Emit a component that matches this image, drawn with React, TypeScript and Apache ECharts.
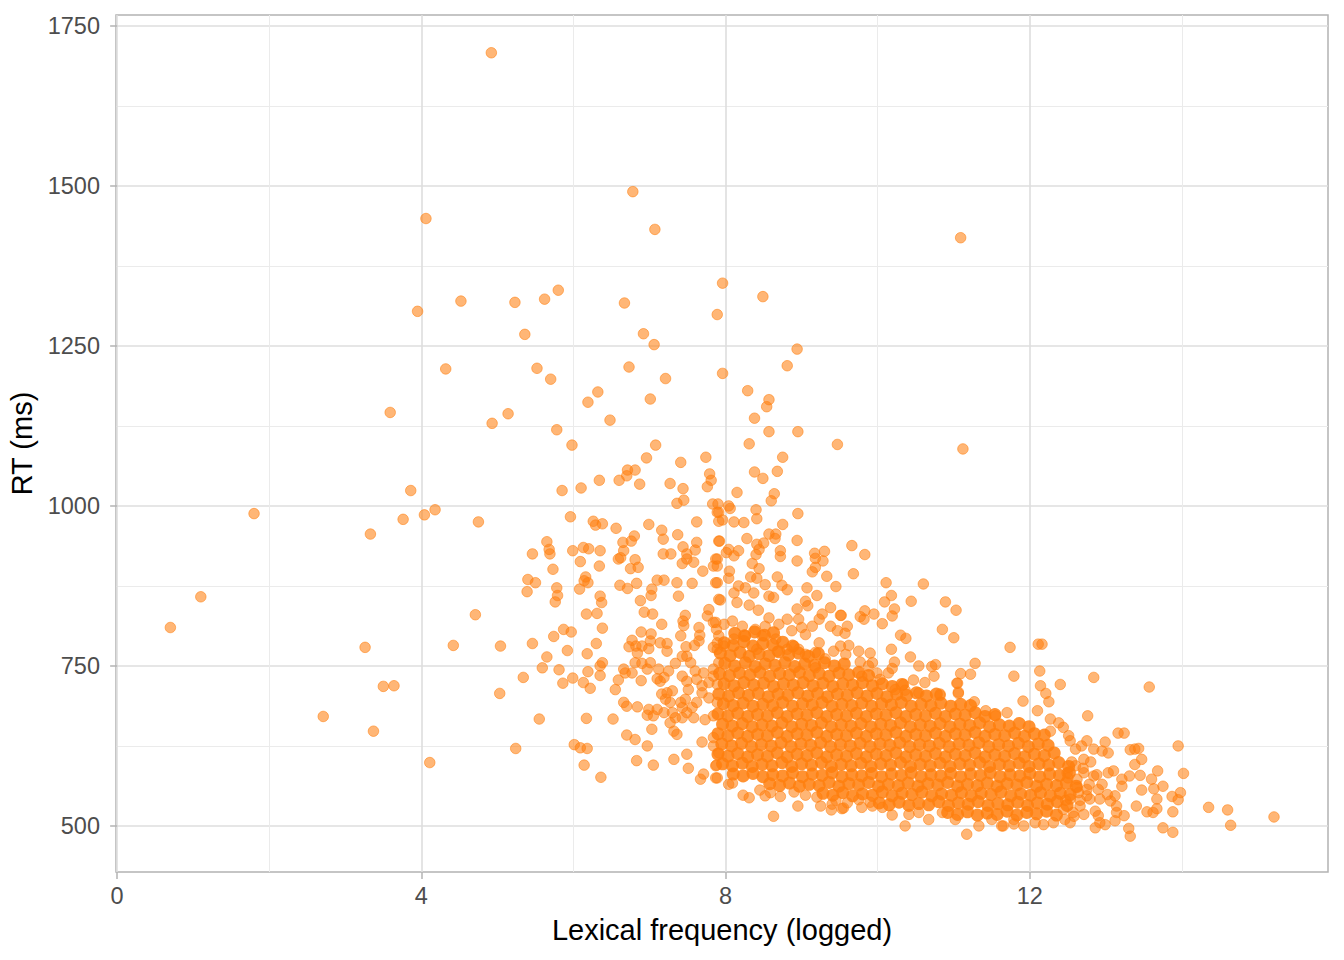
import React, { useEffect, useRef } from "react";
import * as echarts from "echarts";

// axis ticks (ggplot-style major / minor breaks)
const xTicks = [0, 4, 8, 12];
const xMinorTicks = [2, 6, 10, 14];
const yTicks = [500, 750, 1000, 1250, 1500, 1750];
const yMinorTicks = [625, 875, 1125, 1375, 1625];

// [lexical frequency (logged), RT (ms)]
const lowFreq: [number, number][] = [
    [0.70, 810], [1.10, 858], [1.80, 988], [2.71, 671], [3.26, 779], [3.37, 648], [3.33, 956], [3.50, 718],
    [3.64, 719], [3.59, 1146], [3.76, 979], [3.86, 1024], [3.95, 1304], [4.04, 986], [4.18, 994], [4.06, 1449],
    [4.11, 599], [4.32, 1214], [4.42, 782], [4.52, 1320], [4.75, 975], [4.71, 830], [4.92, 1708], [4.93, 1129],
    [5.04, 781], [5.03, 707], [5.14, 1144], [5.23, 1318], [5.24, 621],
];

const slowUpper: [number, number][] = [
    [6.78, 1491], [7.07, 1432], [11.09, 1419], [7.96, 1348], [8.49, 1327], [5.62, 1323], [5.80, 1337], [6.67, 1317],
    [7.89, 1299], [5.36, 1268], [6.92, 1269], [7.06, 1252], [8.94, 1245], [8.81, 1219], [5.52, 1215], [5.70, 1198],
    [6.73, 1217], [7.21, 1199], [7.96, 1207], [8.29, 1180], [8.57, 1166], [8.54, 1155], [8.38, 1137], [6.32, 1178],
    [6.19, 1162], [7.01, 1167], [6.48, 1134], [5.78, 1119], [5.98, 1095], [7.08, 1095], [8.57, 1116], [8.95, 1116],
    [8.31, 1097], [9.47, 1096], [11.12, 1089], [6.96, 1075], [7.74, 1076], [7.41, 1068], [8.75, 1076], [6.71, 1056],
    [6.81, 1056], [6.70, 1047], [7.79, 1050], [7.81, 1040], [7.76, 1030], [8.38, 1053], [8.68, 1054], [8.49, 1043],
    [6.34, 1040], [6.60, 1040], [6.87, 1034], [7.27, 1035], [7.44, 1027], [5.85, 1024], [6.10, 1028], [8.15, 1021],
    [8.64, 1019],
];

const midLeft: [number, number][] = [
    [7.36, 1004], [7.45, 1009], [7.83, 1003], [7.89, 990], [5.96, 983], [6.26, 976], [6.29, 970], [6.38, 972],
    [6.56, 965], [6.99, 971], [7.16, 962], [7.37, 955], [7.62, 975], [7.91, 976], [5.65, 944], [5.68, 932],
    [5.69, 925], [5.46, 925], [5.99, 930], [6.13, 935], [6.20, 933], [6.35, 930], [6.65, 943], [6.66, 930],
    [6.76, 945], [6.80, 953], [7.18, 948], [7.18, 925], [7.28, 925], [7.44, 936], [7.49, 925], [7.62, 943],
    [7.60, 931], [7.91, 945], [6.59, 917], [6.62, 919], [6.09, 913], [6.34, 906], [6.75, 902], [6.81, 916],
    [6.85, 904], [7.43, 910], [7.49, 917], [7.58, 912], [7.70, 898], [7.84, 906], [7.87, 917], [5.73, 901],
    [5.40, 885], [5.50, 880], [5.39, 866], [5.78, 872], [5.79, 860], [5.76, 850], [6.16, 889], [6.14, 883],
    [6.19, 880], [6.08, 870], [6.35, 859], [6.37, 849], [6.61, 876], [6.71, 871], [6.83, 879], [7.10, 884],
    [7.19, 884], [7.36, 880], [7.56, 879], [7.87, 880], [7.03, 870], [7.02, 860], [6.88, 852], [7.38, 859],
    [7.91, 854], [6.17, 831], [6.31, 832], [6.93, 834], [7.04, 831], [7.47, 829], [7.44, 820], [7.45, 813],
    [7.78, 838], [7.76, 828], [7.16, 815], [7.65, 810], [7.66, 798], [7.84, 818], [7.88, 807], [5.87, 807],
    [5.97, 803], [5.74, 796], [5.46, 785], [6.38, 809], [6.30, 785], [5.92, 774], [6.18, 769], [5.65, 764],
    [5.59, 747], [5.81, 744], [5.34, 732], [5.86, 723], [5.99, 731], [6.13, 724], [6.22, 715], [6.19, 741],
    [6.35, 735], [6.35, 750], [6.38, 755], [6.89, 803], [7.02, 800], [6.77, 790], [6.73, 780], [6.82, 781],
    [6.84, 770], [6.90, 781], [6.99, 777], [7.01, 789], [7.14, 786], [7.23, 785], [7.23, 773], [7.41, 797],
    [7.48, 780], [7.59, 782], [7.65, 789], [7.84, 779], [7.89, 786], [6.81, 755], [6.90, 754], [7.01, 755],
    [6.97, 745], [7.12, 745], [7.25, 742], [7.34, 754], [7.43, 765], [7.49, 765], [7.54, 755], [7.60, 742],
    [7.71, 739], [7.84, 745], [7.91, 755], [6.66, 745], [6.68, 739], [6.77, 739], [6.59, 728], [6.55, 713],
    [6.89, 727], [7.10, 730], [7.14, 726], [7.19, 732], [7.43, 734], [7.49, 726], [7.51, 713], [7.62, 729],
    [7.69, 719], [7.78, 724], [7.89, 721], [7.84, 734], [7.16, 706], [7.23, 708], [7.30, 711], [7.21, 698],
    [7.27, 693], [7.41, 693], [7.47, 698], [7.43, 685], [7.56, 685], [7.62, 693], [7.69, 708], [7.78, 700],
    [7.89, 693], [6.66, 693], [6.70, 687], [6.84, 686], [6.99, 682], [6.97, 673], [7.05, 672], [7.10, 682],
    [7.19, 677], [7.30, 677], [7.34, 669], [7.43, 669], [7.49, 677], [7.58, 669], [7.73, 666], [7.84, 672],
    [5.55, 667], [6.17, 668], [6.52, 667], [7.03, 651], [6.70, 642], [6.81, 635], [6.97, 625], [7.27, 661],
    [7.32, 648], [7.36, 643], [7.69, 631], [7.84, 638], [7.84, 625], [7.91, 614], [6.01, 627], [6.09, 622],
    [6.18, 621], [6.14, 595], [6.36, 576], [6.83, 602], [7.05, 595], [7.32, 604], [7.49, 612], [7.51, 590],
    [7.67, 573], [7.71, 581], [7.87, 594], [7.87, 575],
];

const midUpper: [number, number][] = [
    [8.60, 1008], [8.04, 1000], [8.06, 996], [7.90, 1003], [7.91, 990], [8.40, 994], [8.41, 980], [8.95, 988],
    [7.96, 978], [8.11, 975], [8.24, 974], [8.75, 971], [8.57, 956], [8.66, 956], [8.65, 949], [8.28, 949],
    [7.92, 945], [8.94, 946], [8.41, 940], [8.50, 942], [8.44, 932], [8.04, 932], [8.17, 930], [8.11, 922],
    [8.01, 927], [8.72, 930], [8.72, 921], [8.40, 924], [9.17, 926], [9.30, 929], [9.18, 918], [9.28, 914],
    [9.66, 938], [9.83, 924], [8.94, 914], [8.35, 910], [8.44, 902], [8.05, 898], [7.89, 917], [7.89, 906],
    [9.18, 904], [9.14, 897], [9.33, 890], [9.68, 894], [8.68, 889], [8.33, 889], [8.41, 887], [8.04, 887],
    [7.89, 880], [8.52, 877], [8.74, 876], [8.81, 869], [8.17, 875], [8.11, 864], [8.26, 872], [8.37, 864],
    [9.07, 872], [9.45, 874], [9.20, 860], [10.11, 880], [10.60, 878], [10.18, 860], [10.09, 850], [10.22, 839],
    [10.19, 828], [10.44, 851], [10.89, 850], [11.03, 837], [8.57, 859], [8.63, 857], [7.93, 853], [8.15, 849],
    [8.31, 845], [8.43, 837], [9.05, 851], [9.08, 844], [8.94, 839], [9.38, 841], [9.52, 829], [9.83, 836],
    [9.95, 831], [9.77, 827], [9.82, 823], [10.06, 816], [10.85, 807], [11.00, 794], [10.30, 798], [10.37, 793],
    [11.74, 779], [11.79, 734], [10.18, 776], [10.43, 764], [9.90, 770], [9.75, 773], [10.22, 756], [10.54, 750],
    [10.71, 749], [10.76, 752], [11.28, 754], [11.09, 738], [11.22, 737], [10.74, 734], [10.47, 728], [11.04, 723],
    [10.62, 724], [11.06, 709], [10.82, 706], [10.54, 708], [10.36, 712], [10.14, 739], [10.19, 746], [9.99, 739],
    [9.88, 750], [9.77, 756], [9.93, 755], [9.79, 734], [10.03, 729], [10.23, 713], [10.34, 721], [9.51, 829],
    [9.60, 812], [9.47, 805], [9.57, 801], [9.38, 812], [9.27, 831], [9.23, 823], [8.96, 823], [9.00, 810],
    [9.05, 799], [9.14, 812], [8.87, 805], [8.81, 823], [8.70, 815], [8.57, 825], [8.52, 812], [8.39, 807],
    [8.22, 812], [8.09, 820], [7.98, 815], [7.87, 818], [9.62, 782], [9.51, 781], [9.42, 773], [9.58, 768],
    [9.23, 786], [9.18, 771], [9.31, 761], [9.18, 747], [8.96, 776], [8.90, 781], [9.05, 768], [8.81, 776],
    [8.68, 773], [8.66, 792], [8.48, 797], [8.41, 776], [8.26, 797], [8.11, 792], [7.98, 781], [7.89, 776],
    [7.91, 797],
];

const highFreq: [number, number][] = [
    [12.11, 784], [12.16, 784], [12.13, 742], [12.14, 719], [12.40, 721], [12.84, 732], [13.57, 717], [12.21, 707],
    [12.25, 694], [11.91, 695], [12.10, 680], [12.76, 672], [12.27, 667], [12.38, 661], [12.44, 654], [12.51, 641],
    [12.53, 633], [12.27, 648], [13.16, 645], [13.24, 645], [12.99, 631], [13.03, 614], [12.95, 617], [12.75, 633],
    [12.68, 625], [12.84, 620], [12.71, 604], [13.95, 625], [13.32, 619], [13.38, 620], [13.43, 621], [13.47, 604],
    [13.38, 596], [14.02, 582], [13.68, 586], [13.60, 573], [13.75, 562], [13.63, 558], [13.67, 542], [13.87, 546],
    [13.98, 552], [13.95, 541], [13.45, 579], [13.31, 578], [13.03, 583], [13.10, 586], [13.21, 573], [13.21, 562],
    [13.02, 549], [12.90, 557], [12.92, 542], [13.47, 556], [13.40, 531], [13.54, 522], [13.62, 521], [13.67, 527],
    [13.88, 522], [14.35, 529], [14.60, 525], [15.21, 514], [14.64, 501], [13.75, 497], [13.88, 490], [13.30, 496],
    [13.32, 484], [13.14, 521], [13.24, 516], [13.12, 508], [12.92, 505], [12.99, 502], [12.86, 497], [13.14, 531],
    [12.86, 523], [12.90, 516], [13.06, 539], [13.12, 547], [12.79, 542], [12.66, 531], [12.75, 547], [12.49, 583],
    [12.62, 573], [12.71, 583], [12.60, 594], [12.84, 578], [12.75, 557], [12.64, 552], [12.53, 542], [12.44, 526],
    [12.57, 521], [12.71, 518], [12.46, 510], [12.31, 505], [12.18, 502], [12.07, 505], [11.92, 500], [11.79, 503],
    [11.65, 500], [12.55, 600], [12.62, 560], [12.70, 590], [12.78, 565], [12.66, 540], [12.58, 515], [12.80, 600],
    [12.88, 580], [12.95, 565], [12.60, 620], [12.50, 575], [12.47, 540], [12.53, 505],
];

const clusterEdge: [number, number][] = [
    [7.89, 575], [8.04, 565], [8.23, 548], [8.31, 544], [8.52, 547], [8.72, 546], [8.63, 515], [8.95, 531],
    [9.25, 531], [9.39, 525], [9.53, 527], [9.40, 534], [9.79, 529], [9.93, 531], [10.06, 529], [10.19, 517],
    [10.36, 500], [10.41, 518], [10.54, 521], [10.67, 510], [10.85, 521], [11.02, 510], [11.17, 487], [11.33, 500],
    [11.50, 510], [11.63, 500], [11.79, 510], [10.82, 704], [11.05, 723], [11.06, 707], [11.27, 694], [11.42, 680],
    [11.55, 672], [11.70, 677], [7.88, 595], [8.09, 567], [8.59, 552], [8.45, 556], [8.90, 553], [9.05, 548],
    [9.20, 545], [9.45, 540], [9.60, 536], [9.75, 541], [9.90, 537], [9.55, 528],
];

// the saturated core of the cloud, where single points can no longer be told apart
const denseCore: [number, number][] = [
    [8.12, 801], [8.25, 797], [8.38, 803], [8.51, 798], [8.63, 802],
    [7.98, 786], [8.10, 782], [8.24, 788], [8.36, 781], [8.49, 785], [8.62, 783], [8.75, 787], [8.88, 781],
    [7.93, 770], [8.06, 766], [8.19, 771], [8.31, 765], [8.44, 769], [8.57, 766], [8.70, 772], [8.83, 767],
    [8.96, 770], [9.09, 765], [9.22, 769],
    [7.99, 754], [8.12, 750], [8.26, 755], [8.39, 749], [8.52, 753], [8.65, 751], [8.78, 755], [8.91, 749],
    [9.04, 753], [9.17, 751], [9.30, 755], [9.43, 750], [9.56, 753],
    [7.92, 738], [8.05, 735], [8.18, 739], [8.32, 736], [8.45, 740], [8.58, 734], [8.71, 738], [8.84, 736],
    [8.97, 740], [9.10, 735], [9.23, 738], [9.36, 734], [9.49, 739], [9.62, 736], [9.75, 740], [9.88, 735],
    [7.98, 722], [8.11, 719], [8.24, 724], [8.37, 720], [8.50, 723], [8.63, 718], [8.76, 722], [8.89, 720],
    [9.02, 724], [9.15, 719], [9.28, 723], [9.41, 718], [9.54, 722], [9.67, 720], [9.80, 724], [9.93, 719],
    [10.06, 722], [10.19, 718], [10.32, 721],
    [7.91, 706], [8.04, 703], [8.17, 708], [8.30, 704], [8.43, 707], [8.56, 702], [8.69, 706], [8.82, 704],
    [8.95, 708], [9.08, 703], [9.21, 707], [9.34, 702], [9.47, 706], [9.60, 704], [9.73, 708], [9.86, 703],
    [9.99, 707], [10.12, 702], [10.25, 706], [10.38, 704], [10.51, 708], [10.64, 703], [10.77, 706],
    [7.97, 691], [8.10, 688], [8.23, 692], [8.36, 687], [8.49, 690], [8.62, 688], [8.75, 693], [8.88, 687],
    [9.01, 691], [9.14, 689], [9.27, 693], [9.40, 687], [9.53, 690], [9.66, 688], [9.79, 692], [9.92, 687],
    [10.05, 691], [10.18, 689], [10.31, 693], [10.44, 687], [10.57, 690], [10.70, 688], [10.83, 692], [10.96, 687],
    [11.09, 690], [11.22, 688],
    [7.90, 675], [8.03, 672], [8.16, 676], [8.29, 671], [8.42, 674], [8.55, 672], [8.68, 677], [8.81, 671],
    [8.94, 675], [9.07, 673], [9.20, 677], [9.33, 671], [9.46, 674], [9.59, 672], [9.72, 676], [9.85, 671],
    [9.98, 675], [10.11, 673], [10.24, 677], [10.37, 671], [10.50, 674], [10.63, 672], [10.76, 676], [10.89, 671],
    [11.02, 675], [11.15, 673], [11.28, 677], [11.41, 671], [11.54, 674],
    [7.96, 659], [8.09, 656], [8.22, 660], [8.35, 655], [8.48, 658], [8.61, 656], [8.74, 661], [8.87, 655],
    [9.00, 659], [9.13, 657], [9.26, 661], [9.39, 655], [9.52, 658], [9.65, 656], [9.78, 660], [9.91, 655],
    [10.04, 659], [10.17, 657], [10.30, 661], [10.43, 655], [10.56, 658], [10.69, 656], [10.82, 660], [10.95, 655],
    [11.08, 659], [11.21, 657], [11.34, 661], [11.47, 655], [11.60, 658], [11.73, 656], [11.86, 660], [11.99, 655],
    [7.90, 644], [8.03, 641], [8.16, 645], [8.29, 640], [8.42, 643], [8.55, 641], [8.68, 646], [8.81, 640],
    [8.94, 644], [9.07, 642], [9.20, 646], [9.33, 640], [9.46, 643], [9.59, 641], [9.72, 645], [9.85, 640],
    [9.98, 644], [10.11, 642], [10.24, 646], [10.37, 640], [10.50, 643], [10.63, 641], [10.76, 645], [10.89, 640],
    [11.02, 644], [11.15, 642], [11.28, 646], [11.41, 640], [11.54, 643], [11.67, 641], [11.80, 645], [11.93, 640],
    [12.06, 644], [12.19, 642],
    [7.95, 628], [8.08, 625], [8.21, 629], [8.34, 624], [8.47, 627], [8.60, 625], [8.73, 630], [8.86, 624],
    [8.99, 628], [9.12, 626], [9.25, 630], [9.38, 624], [9.51, 627], [9.64, 625], [9.77, 629], [9.90, 624],
    [10.03, 628], [10.16, 626], [10.29, 630], [10.42, 624], [10.55, 627], [10.68, 625], [10.81, 629], [10.94, 624],
    [11.07, 628], [11.20, 626], [11.33, 630], [11.46, 624], [11.59, 627], [11.72, 625], [11.85, 629], [11.98, 624],
    [12.11, 628], [12.24, 626],
    [7.90, 612], [8.03, 609], [8.16, 613], [8.29, 608], [8.42, 611], [8.55, 609], [8.68, 614], [8.81, 608],
    [8.94, 612], [9.07, 610], [9.20, 614], [9.33, 608], [9.46, 611], [9.59, 609], [9.72, 613], [9.85, 608],
    [9.98, 612], [10.11, 610], [10.24, 614], [10.37, 608], [10.50, 611], [10.63, 609], [10.76, 613], [10.89, 608],
    [11.02, 612], [11.15, 610], [11.28, 614], [11.41, 608], [11.54, 611], [11.67, 609], [11.80, 613], [11.93, 608],
    [12.06, 612], [12.19, 610], [12.32, 614],
    [7.96, 597], [8.09, 594], [8.22, 598], [8.35, 593], [8.48, 596], [8.61, 594], [8.74, 599], [8.87, 593],
    [9.00, 597], [9.13, 595], [9.26, 599], [9.39, 593], [9.52, 596], [9.65, 594], [9.78, 598], [9.91, 593],
    [10.04, 597], [10.17, 595], [10.30, 599], [10.43, 593], [10.56, 596], [10.69, 594], [10.82, 598], [10.95, 593],
    [11.08, 597], [11.21, 595], [11.34, 599], [11.47, 593], [11.60, 596], [11.73, 594], [11.86, 598], [11.99, 593],
    [12.12, 597], [12.25, 595], [12.38, 599], [12.51, 593],
    [8.10, 581], [8.23, 578], [8.36, 582], [8.49, 577], [8.62, 580], [8.75, 578], [8.88, 583], [9.01, 577],
    [9.14, 581], [9.27, 579], [9.40, 583], [9.53, 577], [9.66, 580], [9.79, 578], [9.92, 582], [10.05, 577],
    [10.18, 581], [10.31, 579], [10.44, 583], [10.57, 577], [10.70, 580], [10.83, 578], [10.96, 582], [11.09, 577],
    [11.22, 581], [11.35, 579], [11.48, 583], [11.61, 577], [11.74, 580], [11.87, 578], [12.00, 582], [12.13, 577],
    [12.26, 581], [12.39, 579], [12.52, 583],
    [8.58, 566], [8.71, 563], [8.84, 567], [8.97, 562], [9.10, 565], [9.23, 563], [9.36, 568], [9.49, 562],
    [9.62, 566], [9.75, 564], [9.88, 568], [10.01, 562], [10.14, 565], [10.27, 563], [10.40, 567], [10.53, 562],
    [10.66, 566], [10.79, 564], [10.92, 568], [11.05, 562], [11.18, 565], [11.31, 563], [11.44, 567], [11.57, 562],
    [11.70, 566], [11.83, 564], [11.96, 568], [12.09, 562], [12.22, 565], [12.35, 563], [12.48, 567], [12.61, 562],
    [9.28, 551], [9.41, 548], [9.54, 552], [9.67, 547], [9.80, 550], [9.93, 548], [10.06, 553], [10.19, 547],
    [10.32, 551], [10.45, 549], [10.58, 553], [10.71, 547], [10.84, 550], [10.97, 548], [11.10, 552], [11.23, 547],
    [11.36, 551], [11.49, 549], [11.62, 553], [11.75, 547], [11.88, 550], [12.01, 548], [12.14, 552], [12.27, 547],
    [12.40, 551], [12.53, 549],
    [10.02, 536], [10.15, 533], [10.28, 537], [10.41, 532], [10.54, 535], [10.67, 533], [10.80, 538], [10.93, 532],
    [11.06, 536], [11.19, 534], [11.32, 538], [11.45, 532], [11.58, 535], [11.71, 533], [11.84, 537], [11.97, 532],
    [12.10, 536], [12.23, 534], [12.36, 538], [12.49, 532],
    [10.92, 521], [11.05, 518], [11.18, 522], [11.31, 517], [11.44, 520], [11.57, 518], [11.70, 523], [11.83, 517],
    [11.96, 521], [12.09, 519], [12.22, 523], [12.35, 517],
];

const X_MIN = -0.015;
const X_MAX = 15.92;
const Y_MIN = 428;
const Y_MAX = 1767;

const FONT = "'Liberation Sans', Arial, Helvetica, sans-serif";
const ORANGE = "#FF7F0E";

const App: React.FC = () => {
    const ref = useRef<HTMLDivElement | null>(null);

    useEffect(() => {
        document.body.style.margin = "0";
        if (!ref.current) return;
        const chart = echarts.init(ref.current, undefined, { renderer: "svg" });

        const tickStyle = { color: "#B3B3B3", width: 1.5 };
        const plain = (v: number) => String(v);
        const option: echarts.EChartsOption = {
            animation: false,
            backgroundColor: "#FFFFFF",
            grid: {
                left: 116,
                top: 15,
                width: 1212,
                height: 857,
                show: true,
                borderColor: "#B3B3B3",
                borderWidth: 1.5,
                backgroundColor: "transparent",
                containLabel: false,
                outerBoundsMode: "none",
            } as any,
            xAxis: [
                {
                    type: "value",
                    min: X_MIN,
                    max: X_MAX,
                    name: "Lexical frequency (logged)",
                    nameLocation: "middle",
                    nameGap: 43,
                    nameTextStyle: { color: "#000000", fontSize: 29, fontFamily: FONT },
                    axisLine: { show: false },
                    axisTick: { show: true, length: 7, customValues: xTicks, lineStyle: tickStyle },
                    axisLabel: {
                        customValues: xTicks, formatter: plain, color: "#4D4D4D",
                        fontSize: 23.5, fontFamily: FONT, margin: 12,
                    },
                    splitLine: { show: true, lineStyle: { color: "#DEDEDE", width: 1.6 } },
                } as any,
                {
                    type: "value",
                    min: X_MIN,
                    max: X_MAX,
                    position: "bottom",
                    axisLine: { show: false },
                    axisTick: { show: false, customValues: xMinorTicks },
                    axisLabel: { show: false, customValues: xMinorTicks },
                    splitLine: { show: true, lineStyle: { color: "#EBEBEB", width: 1 } },
                } as any,
            ],
            yAxis: [
                {
                    type: "value",
                    min: Y_MIN,
                    max: Y_MAX,
                    name: "RT (ms)",
                    nameLocation: "middle",
                    nameGap: 75,
                    nameTextStyle: { color: "#000000", fontSize: 29, fontFamily: FONT },
                    axisLine: { show: false },
                    axisTick: { show: true, length: 7, customValues: yTicks, lineStyle: tickStyle },
                    axisLabel: {
                        customValues: yTicks, formatter: plain, color: "#4D4D4D",
                        fontSize: 23.5, fontFamily: FONT, margin: 16,
                    },
                    splitLine: { show: true, lineStyle: { color: "#DEDEDE", width: 1.6 } },
                } as any,
                {
                    type: "value",
                    min: Y_MIN,
                    max: Y_MAX,
                    position: "left",
                    axisLine: { show: false },
                    axisTick: { show: false, customValues: yMinorTicks },
                    axisLabel: { show: false, customValues: yMinorTicks },
                    splitLine: { show: true, lineStyle: { color: "#EBEBEB", width: 1 } },
                } as any,
            ],
            series: [
                {
                    type: "scatter",
                    xAxisIndex: 0,
                    yAxisIndex: 0,
                    data: denseCore,
                    symbolSize: 13,
                    progressive: 0,
                    silent: true,
                    itemStyle: { color: ORANGE, opacity: 0.85 },
                },
                {
                    type: "scatter",
                    xAxisIndex: 0,
                    yAxisIndex: 0,
                    data: [...lowFreq, ...slowUpper, ...midLeft, ...midUpper, ...highFreq, ...clusterEdge],
                    symbolSize: 10.5,
                    progressive: 0,
                    silent: true,
                    itemStyle: { color: ORANGE, opacity: 0.57, borderColor: ORANGE, borderWidth: 1 },
                },
            ],
        };

        chart.setOption(option);

        return () => {
            chart.dispose();
        };
    }, []);

    return <div ref={ref} style={{ width: 1344, height: 960 }} />;
};

export default App;
